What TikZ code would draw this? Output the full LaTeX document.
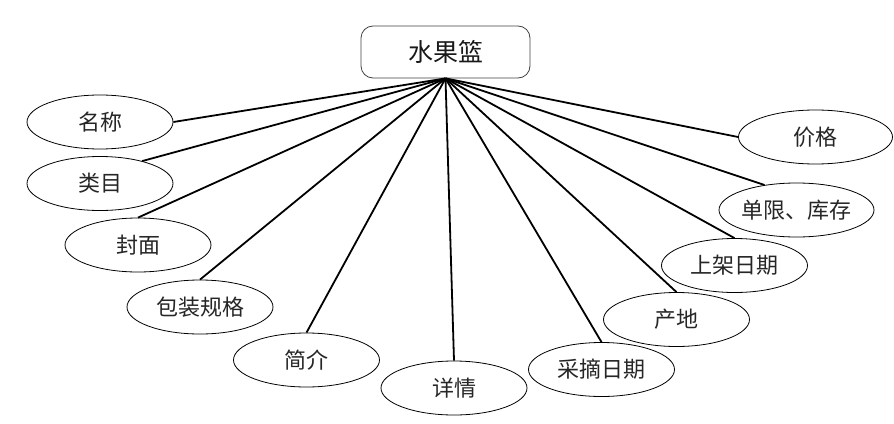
\documentclass[tikz,border=0pt]{standalone}
\usepackage{fontspec}
\setmainfont{Noto Sans CJK SC}
\usetikzlibrary{shapes.geometric}
\begin{document}
\begin{tikzpicture}[x=1pt,y=-1pt,
  attr/.style={draw=black, line width=0.8pt, ellipse, minimum width=146pt, minimum height=54pt, inner sep=0pt,
    label={[font=\fontsize{22}{22}\selectfont, text=black!85, inner sep=0pt]center:#1}},
  entity/.style={draw=black!75, line width=0.8pt, rectangle, rounded corners=12pt, minimum width=169pt, minimum height=52pt,
    font=\fontsize{25}{25}\selectfont, text=black!90},
  conn/.style={draw=black, line width=1.8pt}]
\useasboundingbox (0,0) rectangle (894,423);
\node[entity] (box) at (445.5,52) {水果篮};
\node[attr=名称] (a1) at (100,122) {};
\node[attr=类目] (a2) at (100,183.5) {};
\node[attr=封面] (a3) at (138,245) {};
\node[attr=包装规格] (a4) at (200,307) {};
\node[attr=简介] (a5) at (306.5,360) {};
\node[attr=详情] (a6) at (454,388) {};
\node[attr=采摘日期] (a7) at (601.5,369.5) {};
\node[attr=产地] (a8) at (676.5,319.5) {};
\node[attr=上架日期] (a9) at (734.5,265.5) {};
\node[attr=单限、库存, minimum width=155pt] (a10) at (796.5,210) {};
\node[attr=价格, minimum width=154pt] (a11) at (815.5,137) {};
\draw[conn] (box.south) -- (a1.0);
\draw[conn] (box.south) -- (a2.28);
\draw[conn] (box.south) -- (a3.90);
\draw[conn] (box.south) -- (a4.90);
\draw[conn] (box.south) -- (a5.90);
\draw[conn] (box.south) -- (a6.90);
\draw[conn] (box.south) -- (a7.90);
\draw[conn] (box.south) -- (a8.90);
\draw[conn] (box.south) -- (a9.90);
\draw[conn] (box.south) -- (a10.142);
\draw[conn] (box.south) -- (a11.180);
\end{tikzpicture}
\end{document}
